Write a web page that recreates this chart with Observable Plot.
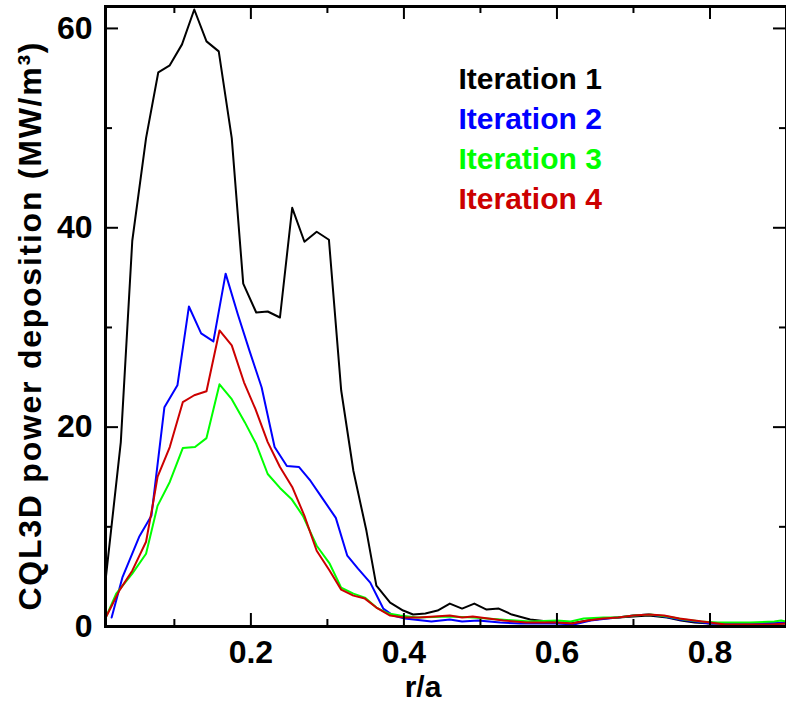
<!DOCTYPE html>
<html><head><meta charset="utf-8">
<script src="https://cdn.jsdelivr.net/npm/d3@7"></script>
<script src="https://cdn.jsdelivr.net/npm/@observablehq/plot@0.6"></script>
<style>body{margin:0;background:#fff}</style>
</head><body><div id="chart"></div>
<script>
// ---- data ----
const iter1R = [0.0106,0.030,0.045,0.063,0.079,0.094,0.110,0.126,0.142,0.158,0.175,0.190,0.207,0.222,0.238,0.254,0.270,0.286,0.302,0.318,0.334,0.351,0.364,0.382,0.399,0.412,0.428,0.444,0.460,0.476,0.492,0.508,0.524,0.541,0.565,0.600,0.618,0.640,0.660,0.680,0.700,0.720,0.744,0.762,0.780,0.800,0.850,0.900];
const iter1P = [5.0,18.5,38.7,49.0,55.6,56.3,58.4,61.9,58.7,57.7,49.0,34.4,31.5,31.6,31.0,42.0,38.6,39.6,38.8,23.7,15.6,9.6,4.1,2.4,1.6,1.2,1.3,1.6,2.3,1.8,2.3,1.7,1.8,1.2,0.7,0.4,0.3,0.6,0.8,0.9,1.0,1.1,0.9,0.6,0.4,0.3,0.3,0.3];

const iter2R = [0.018,0.032,0.054,0.070,0.087,0.104,0.119,0.135,0.151,0.167,0.183,0.198,0.214,0.231,0.247,0.263,0.278,0.294,0.311,0.326,0.340,0.356,0.373,0.386,0.401,0.436,0.460,0.476,0.497,0.526,0.552,0.600,0.622,0.644,0.666,0.680,0.700,0.720,0.740,0.760,0.780,0.800,0.850,0.900];
const iter2P = [0.9,4.9,9.0,11.1,22.0,24.2,32.1,29.4,28.6,35.4,31.3,27.7,24.0,18.0,16.1,16.0,14.6,12.8,10.9,7.1,5.8,4.4,1.8,1.1,0.8,0.5,0.7,0.5,0.6,0.4,0.3,0.3,0.2,0.6,0.8,0.9,1.1,1.2,1.0,0.7,0.5,0.3,0.3,0.4];

const iter3R = [0.0097,0.024,0.045,0.063,0.078,0.094,0.111,0.127,0.142,0.159,0.175,0.192,0.207,0.222,0.238,0.253,0.268,0.286,0.303,0.318,0.334,0.349,0.364,0.380,0.395,0.417,0.460,0.491,0.526,0.565,0.600,0.618,0.635,0.661,0.679,0.700,0.722,0.744,0.766,0.788,0.810,0.853,0.884,0.893,0.900];
const iter3P = [0.8,3.3,5.3,7.3,12.1,14.5,17.9,18.0,18.9,24.3,22.8,20.5,18.3,15.3,13.9,12.8,11.1,8.1,6.3,3.9,3.3,2.9,1.9,1.3,1.1,0.9,1.0,0.9,0.7,0.5,0.6,0.5,0.8,0.9,0.9,1.1,1.2,1.0,0.7,0.5,0.4,0.4,0.5,0.6,0.5];

const iter4R = [0.0097,0.017,0.028,0.045,0.063,0.072,0.078,0.094,0.111,0.126,0.142,0.159,0.175,0.191,0.206,0.222,0.238,0.254,0.270,0.286,0.303,0.318,0.334,0.349,0.364,0.382,0.400,0.420,0.440,0.460,0.476,0.490,0.510,0.530,0.560,0.600,0.620,0.640,0.660,0.680,0.700,0.720,0.740,0.760,0.780,0.800,0.820,0.850,0.880,0.900];
const iter4P = [0.8,1.9,3.6,5.6,8.5,12.3,15.0,18.0,22.5,23.2,23.6,29.7,28.2,24.5,21.8,18.5,16.0,14.0,11.1,7.6,5.6,3.7,3.1,2.8,1.9,1.1,0.9,0.9,1.0,1.1,0.9,1.0,0.8,0.6,0.4,0.4,0.3,0.6,0.8,0.9,1.1,1.2,1.1,0.8,0.6,0.4,0.2,0.2,0.2,0.3];

const seriesNames = ["Iteration 1","Iteration 2","Iteration 3","Iteration 4"];
const seriesColors = ["#000000","#0000ff","#00ff00","#cc0000"];
const xMajor = [0.2,0.4,0.6,0.8];
const xMinor = [0.1,0.3,0.5,0.7];
const yMajor = [0,20,40,60];
const yMinor = [10,30,50];
const xTitle = "r/a";
const yTitle = "CQL3D power deposition (MW/m³)";

// ---- build table ----
const rs = [iter1R, iter2R, iter3R, iter4R];
const ps = [iter1P, iter2P, iter3P, iter4P];
const rows = [];
rs.forEach((r, s) => r.forEach((v, i) => rows.push({r: v, p: ps[s][i], s: seriesNames[s]})));

const W = 786, H = 702, mL = 105, mT = 6, mR = 0, mB = 76;
const pw = W - mL - mR, ph = H - mT - mB;
const font = "'Liberation Sans', Arial, Helvetica, sans-serif";

const marks = [];
seriesNames.forEach((name, i) => {
  marks.push(Plot.line(rows.filter(d => d.s === name), {x: "r", y: "p", stroke: seriesColors[i], strokeWidth: 2, clip: true}));
});
// ticks pointing inward on all four sides
marks.push(Plot.tickX(xMajor, {x: d => d, insetTop: ph - 13, strokeWidth: 2}));
marks.push(Plot.tickX(xMinor, {x: d => d, insetTop: ph - 7, strokeWidth: 2}));
marks.push(Plot.tickX(xMajor, {x: d => d, insetBottom: ph - 13, strokeWidth: 2}));
marks.push(Plot.tickX(xMinor, {x: d => d, insetBottom: ph - 7, strokeWidth: 2}));
marks.push(Plot.tickY(yMajor, {y: d => d, insetRight: pw - 13, strokeWidth: 2}));
marks.push(Plot.tickY(yMinor, {y: d => d, insetRight: pw - 7, strokeWidth: 2}));
marks.push(Plot.tickY(yMajor, {y: d => d, insetLeft: pw - 13, strokeWidth: 2}));
marks.push(Plot.tickY(yMinor, {y: d => d, insetLeft: pw - 7, strokeWidth: 2}));
marks.push(Plot.frame({stroke: "black", strokeWidth: 3}));
marks.push(Plot.axisX({ticks: xMajor, tickSize: 0, tickPadding: 14, tickFormat: d => d.toFixed(1), label: null, fontSize: 32, fontWeight: "bold"}));
marks.push(Plot.axisY({ticks: yMajor, tickSize: 0, tickPadding: 13, tickFormat: d => String(d), label: null, fontSize: 32, fontWeight: "bold"}));
marks.push(Plot.text([xTitle], {text: d => d, frameAnchor: "bottom", textAnchor: "middle", lineAnchor: "middle", dy: 61, dx: -23, fontSize: 30, fontWeight: "bold"}));
marks.push(Plot.text([yTitle], {text: d => d, frameAnchor: "left", textAnchor: "middle", lineAnchor: "middle", rotate: -90, dx: -75, dy: 10, fontSize: 32, fontWeight: "bold"}));
seriesNames.forEach((name, i) => {
  marks.push(Plot.text([name], {text: d => d, frameAnchor: "top-left", textAnchor: "start", lineAnchor: "middle", dx: 353, dy: 73 + i * 40, fill: seriesColors[i], fontSize: 30, fontWeight: "bold"}));
});

const chart = Plot.plot({
  width: W, height: H,
  marginLeft: mL, marginTop: mT, marginRight: mR, marginBottom: mB,
  style: {fontFamily: font, fontSize: "32px", fontWeight: "bold", background: "white", color: "black"},
  x: {domain: [0.01, 0.9]},
  y: {domain: [0, 62.2]},
  marks
});
// widen the y title to the reference's span
d3.select(chart).selectAll("text").filter(function() { return this.textContent === yTitle; })
  .attr("textLength", 568).attr("lengthAdjust", "spacing");
document.getElementById("chart").appendChild(chart);
</script>
</body></html>
